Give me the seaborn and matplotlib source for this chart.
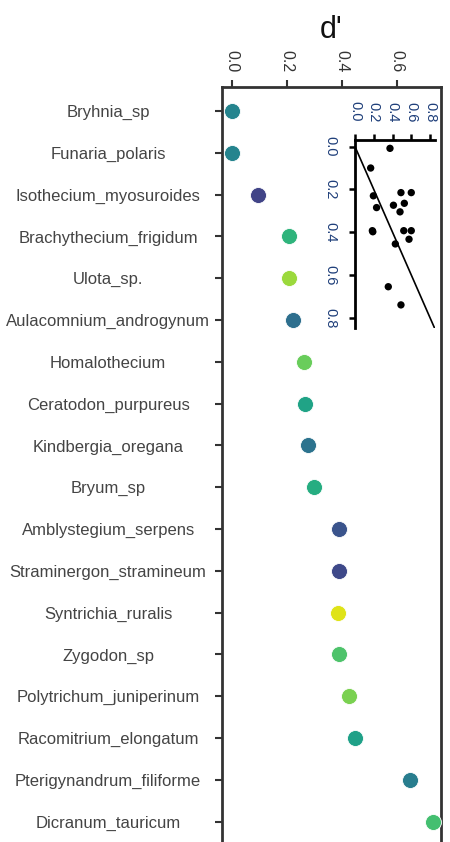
import numpy as np
import pandas as pd
import matplotlib
matplotlib.use("Agg")
import matplotlib.pyplot as plt
import seaborn as sns

sns.set_theme(style="ticks")
plt.rcParams["font.family"] = ["Liberation Sans", "DejaVu Sans"]

# ── Data ─────────────────────────────────────────────────────────────
species = [
    "Bryhnia_sp", "Funaria_polaris", "Isothecium_myosuroides",
    "Brachythecium_frigidum", "Ulota_sp.", "Aulacomnium_androgynum",
    "Homalothecium", "Ceratodon_purpureus", "Kindbergia_oregana",
    "Bryum_sp", "Amblystegium_serpens", "Straminergon_stramineum",
    "Syntrichia_ruralis", "Zygodon_sp", "Polytrichum_juniperinum",
    "Racomitrium_elongatum", "Pterigynandrum_filiforme", "Dicranum_tauricum",
]
dprime = [0.0, 0.0, 0.095, 0.207, 0.208, 0.223, 0.262, 0.266, 0.277,
          0.298, 0.388, 0.388, 0.387, 0.388, 0.426, 0.447, 0.649, 0.734]
# colour variable (viridis scale, 0-1)
cval = [0.45, 0.45, 0.20, 0.65, 0.85, 0.36, 0.77, 0.58, 0.38,
        0.62, 0.26, 0.22, 0.95, 0.72, 0.80, 0.57, 0.42, 0.70]

inset_x = [0.373, 0.167, 0.196, 0.49, 0.60, 0.23, 0.41, 0.526, 0.48,
           0.185, 0.19, 0.52, 0.60, 0.576, 0.43, 0.355, 0.49]
inset_y = [0.008, 0.10, 0.23, 0.215, 0.215, 0.285, 0.274, 0.265, 0.305,
           0.393, 0.398, 0.393, 0.393, 0.433, 0.455, 0.655, 0.74]
ticks = [0.0, 0.2, 0.4, 0.6, 0.8]

df = pd.DataFrame({"species": species, "dprime": dprime, "cval": cval})
inset = pd.DataFrame({"x": inset_x, "y": inset_y})

TXT = "#333333"
SPINE = "#333333"

fig = plt.figure(figsize=(4.5, 8.42), dpi=100)
ax = fig.add_axes([222 / 450, 0.0, 219 / 450, 1 - 87 / 842])

sns.stripplot(data=df, x="dprime", y="species", hue="cval", palette="viridis",
              hue_norm=(0, 1), jitter=False, size=11.5, linewidth=0.6,
              edgecolor="white", legend=False, ax=ax, zorder=3)

ax.set_xlim(-0.0376, 0.762)
ax.set_ylim(17.486, -0.575)
ax.set_xticks(ticks[:4])
ax.set_xticklabels([f"{t:.1f}" for t in ticks[:4]], rotation=-90, color=TXT, fontsize=11.5)
ax.xaxis.tick_top()
ax.set_xlabel("")
ax.set_ylabel("")
ax.set_title("d'", fontsize=22, pad=35, color="#111111")

ax.tick_params(axis="x", direction="out", length=5, width=1.5, color=SPINE, pad=5.5)
ax.tick_params(axis="y", direction="out", length=5, width=1.5, color=SPINE, pad=77,
               labelsize=12, labelcolor="#444444")
for lab in ax.get_yticklabels():
    lab.set_ha("center")

for side in ["left", "right", "top"]:
    ax.spines[side].set_color(SPINE)
    ax.spines[side].set_linewidth(2)
ax.spines["bottom"].set_visible(False)

# ── Inset ────────────────────────────────────────────────────────────
ins = fig.add_axes([355 / 450, 1 - 328 / 842, 80 / 450, 188 / 842])
sns.scatterplot(data=inset, x="x", y="y", color="black", s=28,
                edgecolor="none", ax=ins, zorder=3)
ins.axline((0, 0), slope=1, color="black", linewidth=1.2)
ins.set_xlim(0, 0.853)
ins.set_ylim(0.848, -0.031)
ins.xaxis.tick_top()
ins.set_xticks(ticks)
ins.set_yticks(ticks)
ins.set_xticklabels([f"{t:.1f}" for t in ticks], rotation=-90, color="#1f3f7a", fontsize=10.5)
ins.set_yticklabels([f"{t:.1f}" for t in ticks], rotation=-90, color="#1f3f7a", fontsize=10.5,
                    va="center")
ins.set_xlabel("")
ins.set_ylabel("")
ins.tick_params(direction="out", length=4, width=1.8, color="black", pad=9)
ins.patch.set_alpha(0)
for side in ["right", "bottom"]:
    ins.spines[side].set_visible(False)
for side in ["left", "top"]:
    ins.spines[side].set_color("black")
    ins.spines[side].set_linewidth(2)

fig.savefig("out.png", dpi=100)
